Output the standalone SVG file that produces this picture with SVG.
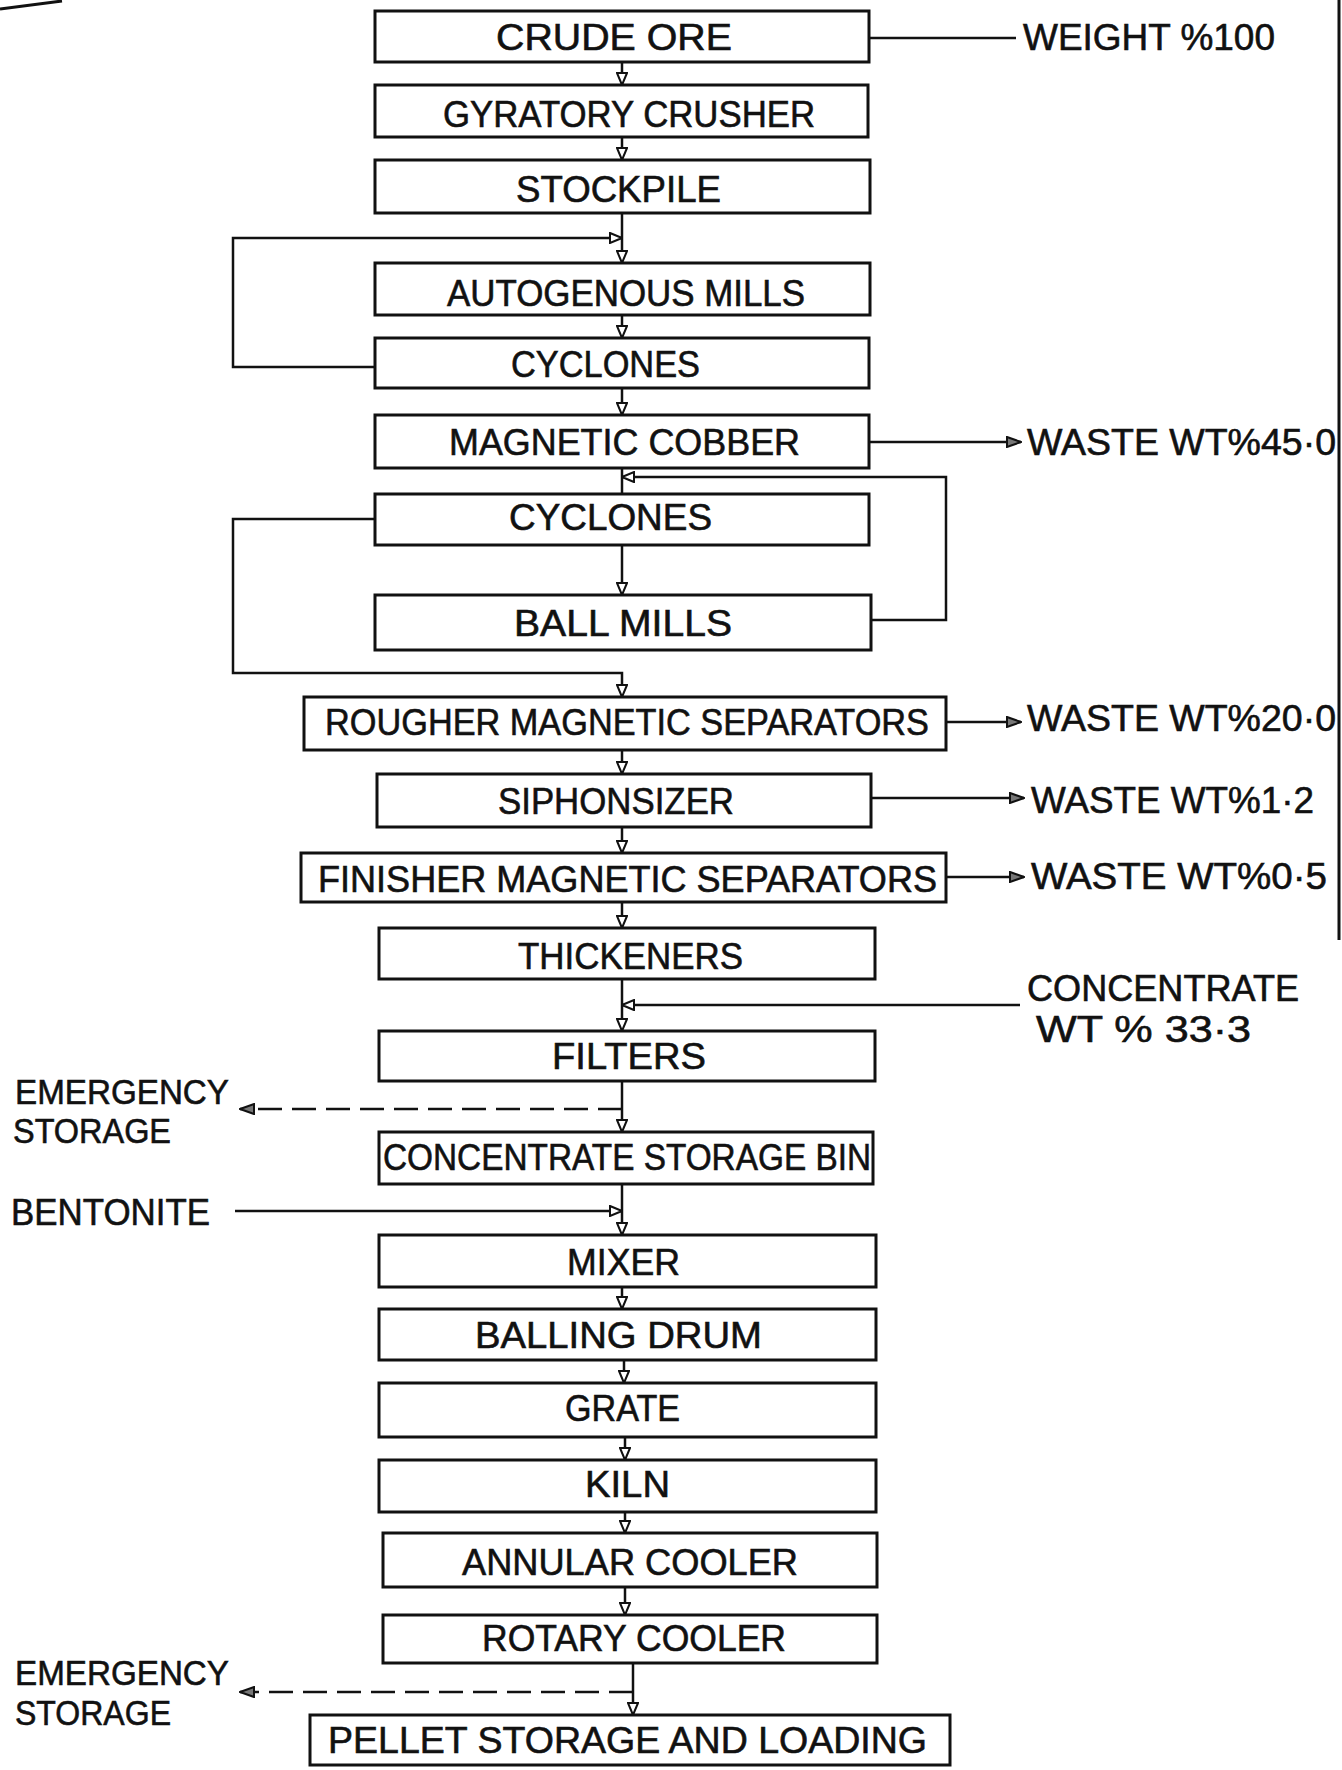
<svg xmlns="http://www.w3.org/2000/svg" width="1342" height="1770" viewBox="0 0 1342 1770">
<style>
.box{fill:#fff;stroke:#111;stroke-width:3}
.t{font-family:"Liberation Sans Narrow","Liberation Sans",Arial,sans-serif;font-size:37px;fill:#111;stroke:#111;stroke-width:0.6}
.s{font-size:35px}
.c{fill:none;stroke:#111;stroke-width:2.5}
.d{fill:none;stroke:#111;stroke-width:2.5;stroke-dasharray:24 10}
</style>
<defs>
<marker id="a" markerUnits="userSpaceOnUse" markerWidth="14" markerHeight="12" refX="12" refY="5" orient="auto" viewBox="-1 -1 14 12">
<path d="M0,0 L12,5 L0,10 Z" fill="#fff" stroke="#111" stroke-width="2"/>
</marker>
<marker id="w" markerUnits="userSpaceOnUse" markerWidth="16" markerHeight="12" refX="14" refY="5" orient="auto" viewBox="-1 -1 16 12">
<path d="M0,0 L14,5 L0,10 Z" fill="#777" stroke="#111" stroke-width="2"/>
</marker>
</defs>
<rect width="1342" height="1770" fill="#fff"/>
<path d="M0,9 L62,1" stroke="#111" stroke-width="3" fill="none"/>
<line x1="1339" y1="0" x2="1339" y2="940" stroke="#111" stroke-width="3"/>

<g id="connectors">
<path class="c" d="M622,62 V85" marker-end="url(#a)"/>
<path class="c" d="M622,137 V160" marker-end="url(#a)"/>
<path class="c" d="M622,213 V263" marker-end="url(#a)"/>
<path class="c" d="M375,367 H233 V238 H622" marker-end="url(#a)"/>
<path class="c" d="M622,315 V338" marker-end="url(#a)"/>
<path class="c" d="M622,388 V415" marker-end="url(#a)"/>
<path class="c" d="M869,442 H1021" marker-end="url(#w)"/>
<path class="c" d="M869,38 H1016"/>
<path class="c" d="M622,468 V494"/>
<path class="c" d="M871,620 H946 V477 H622" marker-end="url(#a)"/>
<path class="c" d="M622,545 V595" marker-end="url(#a)"/>
<path class="c" d="M375,519 H233 V673 H622 V697" marker-end="url(#a)"/>
<path class="c" d="M946,722 H1021" marker-end="url(#w)"/>
<path class="c" d="M622,750 V774" marker-end="url(#a)"/>
<path class="c" d="M871,798 H1024" marker-end="url(#w)"/>
<path class="c" d="M622,827 V853" marker-end="url(#a)"/>
<path class="c" d="M946,877 H1024" marker-end="url(#w)"/>
<path class="c" d="M622,902 V928" marker-end="url(#a)"/>
<path class="c" d="M622,979 V1031" marker-end="url(#a)"/>
<path class="c" d="M1020,1005 H622" marker-end="url(#a)"/>
<path class="c" d="M622,1081 V1132" marker-end="url(#a)"/>
<path class="d" d="M622,1109 H240" marker-end="url(#w)"/>
<path class="c" d="M622,1184 V1235" marker-end="url(#a)"/>
<path class="c" d="M235,1211 H622" marker-end="url(#a)"/>
<path class="c" d="M622,1287 V1309" marker-end="url(#a)"/>
<path class="c" d="M624,1360 V1383" marker-end="url(#a)"/>
<path class="c" d="M625,1437 V1460" marker-end="url(#a)"/>
<path class="c" d="M625,1512 V1533" marker-end="url(#a)"/>
<path class="c" d="M625,1587 V1615" marker-end="url(#a)"/>
<path class="c" d="M633,1663 V1715" marker-end="url(#a)"/>
<path class="d" d="M633,1692 H240" marker-end="url(#w)"/>
</g>

<g id="crude-ore"><rect class="box" x="375" y="11" width="494" height="51"/><text class="t" x="496" y="50" textLength="236" lengthAdjust="spacingAndGlyphs">CRUDE ORE</text></g>
<g id="gyratory-crusher"><rect class="box" x="375" y="85" width="493" height="52"/><text class="t" x="443" y="127" textLength="372" lengthAdjust="spacingAndGlyphs">GYRATORY CRUSHER</text></g>
<g id="stockpile"><rect class="box" x="375" y="160" width="495" height="53"/><text class="t" x="516" y="202" textLength="205" lengthAdjust="spacingAndGlyphs">STOCKPILE</text></g>
<g id="autogenous-mills"><rect class="box" x="375" y="263" width="495" height="52"/><text class="t" x="447" y="306" textLength="358" lengthAdjust="spacingAndGlyphs">AUTOGENOUS MILLS</text></g>
<g id="cyclones-1"><rect class="box" x="375" y="338" width="494" height="50"/><text class="t" x="511" y="377" textLength="189" lengthAdjust="spacingAndGlyphs">CYCLONES</text></g>
<g id="magnetic-cobber"><rect class="box" x="375" y="415" width="494" height="53"/><text class="t" x="449" y="455" textLength="351" lengthAdjust="spacingAndGlyphs">MAGNETIC COBBER</text></g>
<g id="cyclones-2"><rect class="box" x="375" y="494" width="494" height="51"/><text class="t" x="509" y="530" textLength="203" lengthAdjust="spacingAndGlyphs">CYCLONES</text></g>
<g id="ball-mills"><rect class="box" x="375" y="595" width="496" height="55"/><text class="t" x="514" y="636" textLength="218" lengthAdjust="spacingAndGlyphs">BALL MILLS</text></g>
<g id="rougher"><rect class="box" x="304" y="697" width="642" height="53"/><text class="t" x="325" y="735" textLength="604" lengthAdjust="spacingAndGlyphs">ROUGHER MAGNETIC SEPARATORS</text></g>
<g id="siphonsizer"><rect class="box" x="377" y="774" width="494" height="53"/><text class="t" x="498" y="814" textLength="236" lengthAdjust="spacingAndGlyphs">SIPHONSIZER</text></g>
<g id="finisher"><rect class="box" x="301" y="853" width="645" height="49"/><text class="t" x="318" y="892" textLength="619" lengthAdjust="spacingAndGlyphs">FINISHER  MAGNETIC SEPARATORS</text></g>
<g id="thickeners"><rect class="box" x="379" y="928" width="496" height="51"/><text class="t" x="518" y="969" textLength="225" lengthAdjust="spacingAndGlyphs">THICKENERS</text></g>
<g id="filters"><rect class="box" x="379" y="1031" width="496" height="50"/><text class="t" x="552" y="1069" textLength="154" lengthAdjust="spacingAndGlyphs">FILTERS</text></g>
<g id="concentrate-storage-bin"><rect class="box" x="379" y="1132" width="494" height="52"/><text class="t" x="383" y="1170" textLength="488" lengthAdjust="spacingAndGlyphs">CONCENTRATE STORAGE BIN</text></g>
<g id="mixer"><rect class="box" x="379" y="1235" width="497" height="52"/><text class="t" x="567" y="1275" textLength="113" lengthAdjust="spacingAndGlyphs">MIXER</text></g>
<g id="balling-drum"><rect class="box" x="379" y="1309" width="497" height="51"/><text class="t" x="475" y="1348" textLength="287" lengthAdjust="spacingAndGlyphs">BALLING DRUM</text></g>
<g id="grate"><rect class="box" x="379" y="1383" width="497" height="54"/><text class="t" x="565" y="1421" textLength="115" lengthAdjust="spacingAndGlyphs">GRATE</text></g>
<g id="kiln"><rect class="box" x="379" y="1460" width="497" height="52"/><text class="t" x="585" y="1497" textLength="85" lengthAdjust="spacingAndGlyphs">KILN</text></g>
<g id="annular-cooler"><rect class="box" x="383" y="1533" width="494" height="54"/><text class="t" x="462" y="1575" textLength="336" lengthAdjust="spacingAndGlyphs">ANNULAR COOLER</text></g>
<g id="rotary-cooler"><rect class="box" x="383" y="1615" width="494" height="48"/><text class="t" x="482" y="1651" textLength="304" lengthAdjust="spacingAndGlyphs">ROTARY COOLER</text></g>
<g id="pellet-storage"><rect class="box" x="310" y="1715" width="640" height="50"/><text class="t" x="328" y="1753" textLength="599" lengthAdjust="spacingAndGlyphs">PELLET STORAGE AND LOADING</text></g>

<g id="labels">
<text class="t" x="1023" y="50" textLength="252" lengthAdjust="spacingAndGlyphs">WEIGHT %100</text>
<text class="t" x="1027" y="455" textLength="309" lengthAdjust="spacingAndGlyphs">WASTE WT%45·0</text>
<text class="t" x="1027" y="731" textLength="309" lengthAdjust="spacingAndGlyphs">WASTE WT%20·0</text>
<text class="t" x="1031" y="813" textLength="283" lengthAdjust="spacingAndGlyphs">WASTE WT%1·2</text>
<text class="t" x="1031" y="889" textLength="296" lengthAdjust="spacingAndGlyphs">WASTE WT%0·5</text>
<text class="t" x="1027" y="1001" textLength="272" lengthAdjust="spacingAndGlyphs">CONCENTRATE</text>
<text class="t" x="1036" y="1042" textLength="215" lengthAdjust="spacingAndGlyphs">WT % 33·3</text>
<text class="t s" x="15" y="1104" textLength="214" lengthAdjust="spacingAndGlyphs">EMERGENCY</text>
<text class="t s" x="13" y="1143" textLength="158" lengthAdjust="spacingAndGlyphs">STORAGE</text>
<text class="t" x="11" y="1225" textLength="199" lengthAdjust="spacingAndGlyphs">BENTONITE</text>
<text class="t s" x="15" y="1685" textLength="214" lengthAdjust="spacingAndGlyphs">EMERGENCY</text>
<text class="t s" x="15" y="1725" textLength="156" lengthAdjust="spacingAndGlyphs">STORAGE</text>
</g>
</svg>
